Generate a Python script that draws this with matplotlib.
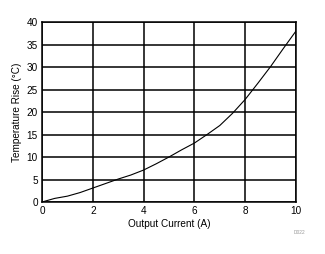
import matplotlib
matplotlib.use('Agg')
import matplotlib.pyplot as plt

# Temperature rise vs output current
current = [0.0, 0.5, 1.0, 1.5, 2.0, 2.5, 3.0, 3.5, 4.0, 4.5, 5.0,
           5.5, 6.0, 6.5, 7.0, 7.5, 8.0, 8.5, 9.0, 9.5, 10.0]
temp_rise = [0.0, 0.8, 1.3, 2.1, 3.1, 4.1, 5.1, 6.0, 7.1, 8.5, 10.0,
             11.6, 13.1, 15.0, 17.0, 19.7, 22.8, 26.4, 30.1, 34.1, 38.0]

xticks = [0, 2, 4, 6, 8, 10]
yticks = [0, 5, 10, 15, 20, 25, 30, 35, 40]

plt.rcParams['font.family'] = ['Liberation Sans', 'DejaVu Sans']

fig = plt.figure(figsize=(3.25, 2.54), dpi=100)
ax = fig.add_axes([42 / 325, 1 - 202 / 254, 254 / 325, 180 / 254])

ax.plot(current, temp_rise, color='black', linewidth=0.8)

ax.set_xlim(0, 10)
ax.set_ylim(0, 40)
ax.set_xticks(xticks)
ax.set_yticks(yticks)
ax.grid(True, color='black', linewidth=1.1)
for s in ax.spines.values():
    s.set_linewidth(1.1)
ax.tick_params(length=0, labelsize=7.2, pad=3)
ax.set_xlabel('Output Current (A)', fontsize=7.2, labelpad=2)
ax.set_ylabel('Temperature Rise (°C)', fontsize=7.2, labelpad=3)

fig.text(300 / 325, 1 - 233 / 254, 'D022', fontsize=3.5, color='#999999',
         ha='center', va='center')

fig.savefig('out.png', dpi=100)
